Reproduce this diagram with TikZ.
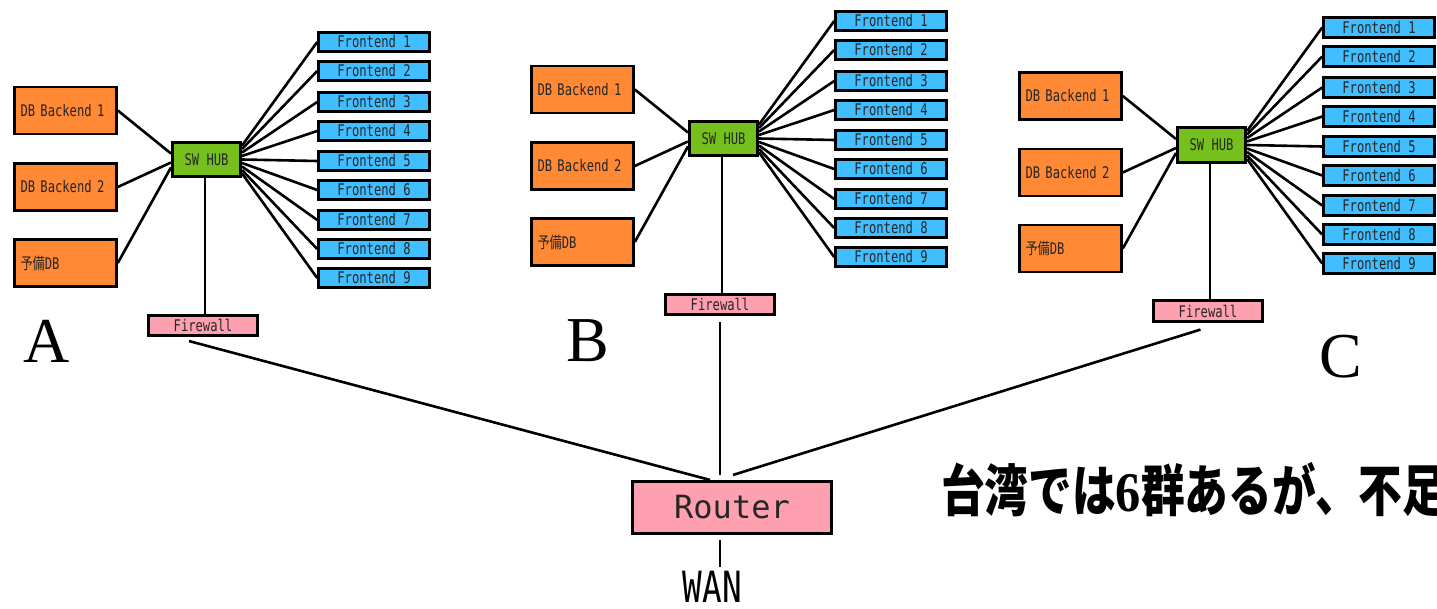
\documentclass[tikz,border=0pt]{standalone}
\usepackage{fontspec}
\usetikzlibrary{calc}
\setmainfont{Liberation Serif}
\newfontfamily\boxfont{DejaVu Sans Mono}[FakeStretch=0.76]
\newfontfamily\routerfont{DejaVu Sans Mono}
\newfontfamily\cjkboxfont{Noto Sans CJK JP}[FakeStretch=0.76]
\newfontfamily\jpfont{Noto Sans CJK JP}[FakeStretch=0.78]
\newfontfamily\numfont{Liberation Serif}[FakeStretch=0.9]

\definecolor{dborange}{RGB}{255,137,52}
\definecolor{feblue}{RGB}{64,190,255}
\definecolor{hubgreen}{RGB}{118,192,30}
\definecolor{fwpink}{RGB}{255,160,176}

\tikzset{
  box/.style={draw=black, line width=2.6pt, inner sep=0pt, text=black!85,
    font=\boxfont\fontsize{16}{16}\selectfont},
  dbbox/.style={box, fill=dborange, minimum width=102pt, minimum height=47pt,
    inner xsep=6pt, text width=90pt, align=left},
  febox/.style={box, fill=feblue, minimum width=111pt, minimum height=19.5pt},
  hubbox/.style={box, fill=hubgreen, minimum width=68.5pt, minimum height=34.5pt},
  fwbox/.style={box, fill=fwpink, minimum width=109.5pt, minimum height=20.5pt},
  routerbox/.style={box, fill=fwpink, minimum width=199pt, minimum height=52.5pt,
    font=\routerfont\fontsize{32}{32}\selectfont},
  link/.style={draw=black, line width=2.6pt},
  grouplabel/.style={inner sep=0pt, font=\fontsize{64}{64}\selectfont},
}

\begin{document}
\begin{tikzpicture}[x=1pt,y=1pt,yscale=-1]
\useasboundingbox (0,0) rectangle (1437,608);

% three server groups, A is drawn at its own place, B and C are shifted copies
\foreach \g/\dx/\dy in {A/0/0,B/517/-21,C/1005/-14.5}{
  \begin{scope}[shift={(\dx,\dy)}]
    % DB side
    \node[dbbox] (\g-db1) at (65.5,110.5) {DB Backend 1};
    \node[dbbox] (\g-db2) at (65.5,187) {DB Backend 2};
    \node[dbbox] (\g-spare) at (65.5,263) {{\cjkboxfont 予備}DB};
    % switch and firewall
    \node[hubbox] (\g-hub) at (206.5,159.5) {SW HUB};
    \node[fwbox] (\g-fw) at (203,325.5) {Firewall};
    % frontends
    \foreach \i/\y in {1/42,2/71,3/102,4/131,5/161,6/190,7/220,8/249,9/278}
      \node[febox] (\g-fe\i) at (374,\y) {Frontend \i};
  \end{scope}
  \draw[link] (\g-db1.east) -- ($(\g-hub.west)+(0,-6)$);
  \draw[link] (\g-db2.east) -- ($(\g-hub.west)+(0,3)$);
  \draw[link] (\g-spare.east) -- ($(\g-hub.west)+(0,8)$);
  \foreach \i in {1,...,9}
    \draw[link] ($(\g-hub.east)+(0,{(\i-5)*3.5})$) -- (\g-fe\i.west);
  \draw[link] ($(\g-hub.south)+(-1.5,0)$) -- ($(\g-fw.north)+(2,0)$);
}

% group labels
\node[grouplabel] (labA) at (46.5,341.5) {A};
\node[grouplabel] (labB) at (588,341) {B};
\node[grouplabel] (labC) at (1341,356.5) {C};

% router and WAN
\node[routerbox] (router) at (732,507.5) {Router};
\node[inner sep=0pt, font=\boxfont\fontsize{43}{43}\selectfont] (wan) at (712.5,587) {WAN};

\draw[link] ($(A-fw.south)+(-14,4)$) -- ($(router.north)+(-22,0)$);
\draw[link] ($(B-fw.south)+(0,6)$) -- ($(router.north)+(-12,-5)$);
\draw[link] ($(C-fw.south)+(-7.5,7)$) -- ($(router.north)+(1,-5)$);
\draw[link] ($(router.south)+(-12,5)$) -- ($(wan.north)+(7.5,-4)$);

% Text Node
\node[anchor=base west, inner sep=0pt, font=\jpfont\bfseries\fontsize{56}{56}\selectfont] (note) at (941,511) {台湾では{\numfont\bfseries\fontsize{56}{56}\selectfont 6}群あるが、不足};

\end{tikzpicture}
\end{document}
